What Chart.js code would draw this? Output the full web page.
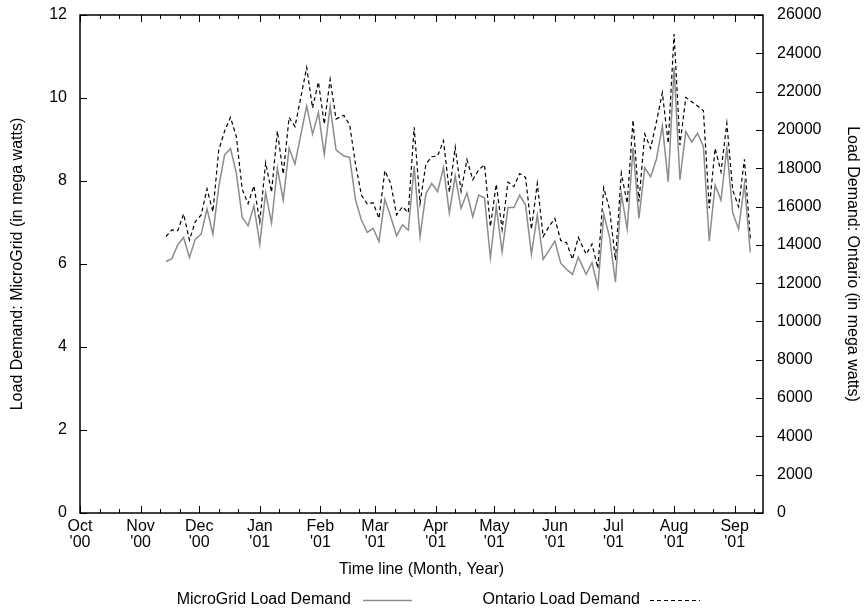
<!DOCTYPE html>
<html>
<head>
<meta charset="utf-8">
<script src="https://cdn.jsdelivr.net/npm/chart.js@4.4.1/dist/chart.umd.min.js"></script>
<style>
  html, body { margin: 0; padding: 0; background: #fff; }
  #wrap { width: 864px; height: 609px; }
</style>
</head>
<body>
<div id="wrap"><canvas id="loadChart" width="864" height="609"></canvas></div>
<script>
// days counted from 1 Oct 2000
const days = [
  44, 47, 50, 53, 56, 59, 62, 65, 68, 71, 74, 77, 80, 83, 86, 89, 92, 95, 98, 101,
  104, 107, 110, 113, 116, 119, 122, 125, 128, 131, 135, 138, 141, 144, 147, 150, 153, 156, 159, 162,
  165, 168, 171, 174, 177, 180, 183, 186, 189, 192, 195, 198, 201, 204, 207, 210, 213, 216, 219, 222,
  225, 228, 231, 234, 237, 240, 243, 246, 249, 252, 255, 259, 262, 265, 268, 271, 274, 277, 280, 283,
  286, 289, 292, 295, 298, 301, 304, 307, 310, 313, 316, 319, 322, 325, 328, 331, 334, 337, 340, 343
];

// MW, left axis
const microGrid = [
  6.06, 6.13, 6.46, 6.64, 6.16, 6.60, 6.72, 7.33, 6.72, 7.86, 8.63, 8.78, 8.19, 7.13, 6.92, 7.40, 6.48, 7.72, 6.99, 8.31,
  7.54, 8.79, 8.41, 9.11, 9.81, 9.13, 9.65, 8.64, 9.80, 8.75, 8.60, 8.57, 7.54, 7.06, 6.76, 6.86, 6.54, 7.56, 7.14, 6.68,
  6.94, 6.82, 8.36, 6.66, 7.69, 7.94, 7.74, 8.33, 7.23, 8.12, 7.34, 7.71, 7.14, 7.66, 7.59, 6.15, 7.38, 6.29, 7.36, 7.36,
  7.66, 7.42, 6.24, 7.18, 6.11, 6.33, 6.55, 6.02, 5.87, 5.75, 6.16, 5.75, 6.03, 5.44, 7.20, 6.64, 5.56, 7.70, 6.84, 8.80,
  7.10, 8.32, 8.10, 8.53, 9.33, 7.98, 10.73, 8.03, 9.19, 8.94, 9.15, 8.83, 6.55, 7.90, 7.54, 8.79, 7.24, 6.84, 7.93, 6.28
];

// MW, right axis
const ontario = [
  14430, 14780, 14740, 15610, 14250, 15210, 15560, 16920, 15730, 18950, 19940, 20660, 19650, 16900, 16150, 17080, 15200, 18290, 16750, 19940,
  17690, 20650, 20170, 21700, 23260, 21150, 22500, 20300, 22640, 20570, 20760, 20260, 18200, 16600, 16130, 16200, 15380, 17870, 17210, 15560,
  15990, 15680, 20140, 16170, 18220, 18600, 18640, 19440, 16750, 19100, 16800, 18450, 17400, 17910, 18190, 14950, 17170, 14810, 17280, 17040,
  17720, 17520, 14810, 17210, 14430, 14960, 15380, 14220, 14110, 13240, 14390, 13510, 14040, 12770, 16980, 15850, 13210, 17740, 16170, 20520,
  16250, 19790, 19040, 20430, 21940, 19300, 25010, 19210, 21700, 21470, 21250, 21000, 15910, 19040, 17820, 20350, 16860, 15990, 18470, 14340
];

const monthDays = [0, 31, 61, 92, 123, 151, 182, 212, 243, 273, 304, 335];
const monthNames = ["Oct", "Nov", "Dec", "Jan", "Feb", "Mar", "Apr", "May", "Jun", "Jul", "Aug", "Sep"];
const monthYears = ["'00", "'00", "'00", "'01", "'01", "'01", "'01", "'01", "'01", "'01", "'01", "'01"];
const minorDays = [10, 20, 41, 51, 71, 81, 102, 112, 133, 143, 161, 171, 192, 202, 222, 232, 253, 263, 283, 293, 314, 324, 345];

const FONT = "'Liberation Sans', Arial, Helvetica, sans-serif";
Chart.defaults.font.family = FONT;
Chart.defaults.font.size = 16;
Chart.defaults.color = "#000";

// gnuplot-like frame with inward ticks, plus the legend under the title
const framePlugin = {
  id: "frame",
  afterDraw(chart) {
    const { ctx, chartArea: a, scales } = chart;
    ctx.save();
    ctx.strokeStyle = "#000";
    ctx.lineWidth = 1;
    ctx.beginPath();
    scales.x.ticks.forEach((t) => {
      const px = Math.round(scales.x.getPixelForValue(t.value)) + 0.5;
      ctx.moveTo(px, a.bottom); ctx.lineTo(px, a.bottom - 7);
      ctx.moveTo(px, a.top); ctx.lineTo(px, a.top + 7);
    });
    minorDays.forEach((d) => {
      const px = Math.round(scales.x.getPixelForValue(d)) + 0.5;
      ctx.moveTo(px, a.bottom); ctx.lineTo(px, a.bottom - 4);
      ctx.moveTo(px, a.top); ctx.lineTo(px, a.top + 4);
    });
    scales.y.ticks.forEach((t) => {
      const py = Math.round(scales.y.getPixelForValue(t.value)) + 0.5;
      ctx.moveTo(a.left, py); ctx.lineTo(a.left + 7, py);
    });
    scales.y2.ticks.forEach((t) => {
      const py = Math.round(scales.y2.getPixelForValue(t.value)) + 0.5;
      ctx.moveTo(a.right, py); ctx.lineTo(a.right - 7, py);
    });
    ctx.stroke();
    ctx.lineWidth = 1.5;
    ctx.strokeRect(a.left, a.top, a.right - a.left, a.bottom - a.top);

    // legend: text, then line sample
    const items = [
      { textRight: 351, x0: 363, x1: 412 },
      { textRight: 640, x0: 650, x1: 700 },
    ];
    const ly = 600;
    ctx.font = "16px " + FONT;
    ctx.fillStyle = "#000";
    ctx.textAlign = "right";
    ctx.textBaseline = "middle";
    chart.data.datasets.forEach((ds, i) => {
      const it = items[i];
      ctx.fillText(ds.label, it.textRight, ly);
      ctx.strokeStyle = ds.borderColor;
      ctx.lineWidth = ds.borderWidth;
      ctx.setLineDash(ds.borderDash || []);
      ctx.beginPath();
      ctx.moveTo(it.x0, ly + 0.5);
      ctx.lineTo(it.x1, ly + 0.5);
      ctx.stroke();
    });
    ctx.restore();
  },
};

// keep the tick-label padding from pushing the plot top down
const fitSide = (w) => (scale) => {
  scale.width = w;
  scale.paddingTop = 8;
  scale.paddingBottom = 8;
};

new Chart(document.getElementById("loadChart"), {
  type: "line",
  data: {
    datasets: [
      {
        label: "MicroGrid Load Demand",
        data: days.map((d, i) => ({ x: d, y: microGrid[i] })),
        yAxisID: "y",
        borderColor: "#8c8c8c",
        borderWidth: 1.5,
        pointRadius: 0,
        tension: 0,
      },
      {
        label: "Ontario Load Demand",
        data: days.map((d, i) => ({ x: d, y: ontario[i] })),
        yAxisID: "y2",
        borderColor: "#000",
        borderWidth: 1.2,
        borderDash: [4, 3],
        pointRadius: 0,
        tension: 0,
      },
    ],
  },
  options: {
    responsive: false,
    animation: false,
    events: [],
    layout: { padding: { top: 15, right: 0, bottom: 0, left: 0 } },
    plugins: {
      legend: { display: false },
      tooltip: { enabled: false },
    },
    scales: {
      x: {
        type: "linear",
        min: 0,
        max: 349.5,
        afterBuildTicks: (scale) => {
          scale.ticks = monthDays.map((v) => ({ value: v }));
        },
        afterFit: (scale) => { scale.height = 96; },
        ticks: {
          autoSkip: false,
          maxRotation: 0,
          padding: 6,
          font: { lineHeight: 1.0 },
          callback: (val, i) => [monthNames[i], monthYears[i]],
        },
        grid: { display: false, drawTicks: false },
        border: { display: false },
        title: {
          display: true,
          text: "Time line (Month, Year)",
          font: { lineHeight: 1.1 },
          padding: { top: 4, bottom: 31 },
        },
      },
      y: {
        position: "left",
        min: 0,
        max: 12,
        afterFit: fitSide(80),
        ticks: { stepSize: 2, padding: 13, callback: (v) => String(v) },
        grid: { display: false, drawTicks: false },
        border: { display: false },
        title: {
          display: true,
          text: "Load Demand: MicroGrid (in mega watts)",
          font: { lineHeight: 1.1 },
          padding: { top: 9, bottom: 0 },
        },
      },
      y2: {
        position: "right",
        min: 0,
        max: 26000,
        afterFit: fitSide(101),
        ticks: { stepSize: 2000, padding: 14, callback: (v) => String(v) },
        grid: { display: false, drawTicks: false },
        border: { display: false },
        title: {
          display: true,
          text: "Load Demand: Ontario (in mega watts)",
          font: { lineHeight: 1.1 },
          padding: { top: 3, bottom: 0 },
        },
      },
    },
  },
  plugins: [framePlugin],
});
</script>
</body>
</html>
